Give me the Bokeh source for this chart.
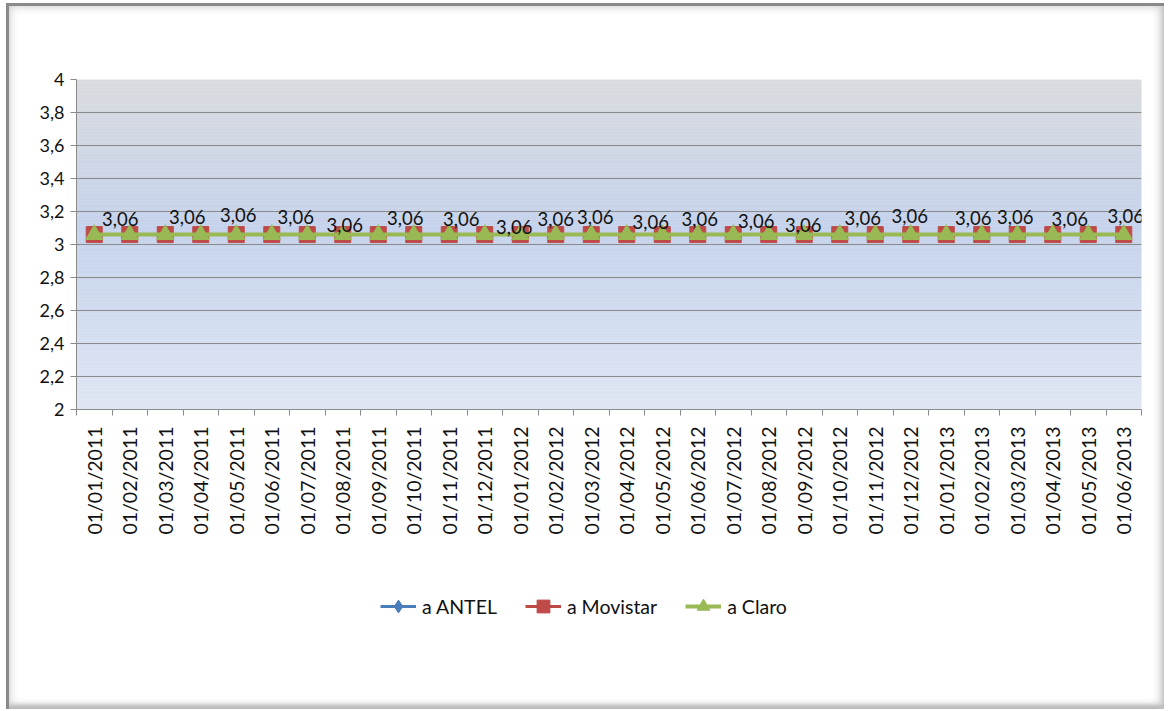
import numpy as np
from bokeh.plotting import figure
from bokeh.layouts import column
from bokeh.models import Range1d, FixedTicker, Legend, LegendItem
from bokeh.core.properties import value
from bokeh.embed import file_html
from bokeh.resources import INLINE

# ---- data ----
categories = ["01/01/2011", "01/02/2011", "01/03/2011", "01/04/2011", "01/05/2011", "01/06/2011",
              "01/07/2011", "01/08/2011", "01/09/2011", "01/10/2011", "01/11/2011", "01/12/2011",
              "01/01/2012", "01/02/2012", "01/03/2012", "01/04/2012", "01/05/2012", "01/06/2012",
              "01/07/2012", "01/08/2012", "01/09/2012", "01/10/2012", "01/11/2012", "01/12/2012",
              "01/01/2013", "01/02/2013", "01/03/2013", "01/04/2013", "01/05/2013", "01/06/2013"]
antel = [3.06] * 30
movistar = [3.06] * 30
claro = [3.06] * 30
series_names = ["a ANTEL", "a Movistar", "a Claro"]
y_ticks = [2.0, 2.2, 2.4, 2.6, 2.8, 3.0, 3.2, 3.4, 3.6, 3.8, 4.0]
y_tick_labels = ["2", "2,2", "2,4", "2,6", "2,8", "3", "3,2", "3,4", "3,6", "3,8", "4"]
# visible data labels: category index, pixel offset x, pixel offset y (up negative)
label_idx = [0, 2, 4, 5, 7, 8, 10, 12, 13, 14, 15, 17, 18, 20, 21, 23, 24, 26, 27, 29]
label_dx = [26, 22, 2, 24, 2, 27, 12, -6, 0, 4, 24, 2, 23, -1, 23, -1, 27, -2, 17, 2]
label_dy = [-16, -18, -20, -18, -10, -17, -16, -8, -16, -18, -13, -16, -14, -10, -17, -19, -17, -18, -16, -19]

FONT = "Lato"
W = 1158
HA, HB = 560, 146
FL, FT, FW, FH = 70, 76, 1065, 330

p = figure(width=W, height=HA, output_backend="svg", toolbar_location=None,
           x_range=Range1d(0, len(categories)), y_range=Range1d(2, 4),
           min_border_left=FL, min_border_right=W - FL - FW,
           min_border_top=FT, min_border_bottom=HA - FT - FH)
p.border_fill_color = None
p.background_fill_color = None
p.outline_line_color = None

# gradient background of the plot area
n = 120
edges = np.linspace(2, 4, n + 1)
stops_f = [0.0, 0.45, 1.0]  # fraction from top
stops_c = [(217, 218, 222), (197, 211, 236), (223, 230, 243)]
cols = []
for k in range(n):
    mid = (edges[k] + edges[k + 1]) / 2
    f = (4 - mid) / 2
    rgb = [int(round(np.interp(f, stops_f, [c[j] for c in stops_c]))) for j in range(3)]
    cols.append("#%02x%02x%02x" % tuple(rgb))
p.quad(left=0, right=len(categories), bottom=edges[:-1], top=edges[1:],
       fill_color=cols, line_color=cols, line_width=0.5, level="image")

xs = np.arange(len(categories)) + 0.5

blue, red, green = "#4a7ebb", "#be4b48", "#98b954"
styles = [dict(color=blue, marker="diamond", size=15, lw=3),
          dict(color=red, marker="square", size=16, lw=3),
          dict(color=green, marker="triangle", size=17, lw=4)]
all_series = [antel, movistar, claro]
for vals, st in zip(all_series, styles):
    p.line(xs, vals, line_color=st["color"], line_width=st["lw"])
    p.scatter(xs, vals, marker=st["marker"], size=st["size"],
              fill_color=st["color"], line_color=st["color"])

# data labels
ppx = FW / len(categories)
ppy = FH / 2.0
lab_x = [i + 0.5 + dx / ppx for i, dx in zip(label_idx, label_dx)]
lab_y = [claro[i] - dy / ppy for i, dy in zip(label_idx, label_dy)]
lab_t = [("%.2f" % claro[i]).replace(".", ",") for i in label_idx]
p.text(x=lab_x, y=lab_y, text=lab_t, text_align="center", text_baseline="middle",
       text_font=value(FONT), text_font_size="18.5px", text_color="#111111")

# axes
p.xaxis.ticker = FixedTicker(ticks=list(xs), minor_ticks=list(range(len(categories) + 1)))
p.xaxis.major_label_overrides = {float(x): c for x, c in zip(xs, categories)}
p.xaxis.major_label_orientation = np.pi / 2
p.xaxis.major_tick_out = 0
p.xaxis.major_tick_in = 0
p.xaxis.minor_tick_out = 6
p.xaxis.minor_tick_in = 0
p.xaxis.minor_tick_line_color = "#8a8a8a"
p.xaxis.major_label_standoff = 11
p.xaxis.major_label_text_font = FONT
p.xaxis.major_label_text_font_size = "19.5px"
p.xaxis.major_label_text_color = "#111111"
p.xaxis.axis_line_color = "#8a8a8a"

p.yaxis.ticker = FixedTicker(ticks=y_ticks)
p.yaxis.major_label_overrides = {t: l for t, l in zip(y_ticks, y_tick_labels)}
p.yaxis.major_tick_out = 6
p.yaxis.major_tick_in = 0
p.yaxis.minor_tick_line_color = None
p.yaxis.major_tick_line_color = "#8a8a8a"
p.yaxis.axis_line_color = "#8a8a8a"
p.yaxis.major_label_standoff = 6
p.yaxis.major_label_text_font = FONT
p.yaxis.major_label_text_font_size = "18px"
p.yaxis.major_label_text_color = "#111111"

p.xgrid.grid_line_color = None
p.ygrid.grid_line_color = "#8a8a8a"
p.ygrid.ticker = FixedTicker(ticks=y_ticks)

# legend strip (separate figure so the legend is not clipped by the plot frame);
# its ranges leave the series out of view, only the legend shows
q = figure(width=W, height=HB, output_backend="svg", toolbar_location=None,
           x_range=Range1d(0, len(categories)), y_range=Range1d(0, 1),
           x_axis_location=None, y_axis_location=None,
           min_border=0, min_border_left=0, min_border_right=0, min_border_top=0, min_border_bottom=0)
q.border_fill_color = None
q.background_fill_color = None
q.outline_line_color = None
q.grid.visible = False
items = []
for name, vals, st in zip(series_names, all_series, styles):
    lr = q.line(xs, vals, line_color=st["color"], line_width=st["lw"])
    mr = q.scatter(xs, vals, marker=st["marker"], size=st["size"],
                   fill_color=st["color"], line_color=st["color"])
    items.append(LegendItem(label=name, renderers=[lr, mr]))
legend = Legend(items=items, orientation="horizontal", location=(304, 87),
                label_text_font=FONT, label_text_font_size="19.5px", label_text_color="#111111",
                glyph_width=36, glyph_height=32, label_height=32, label_standoff=6, spacing=28,
                padding=0, margin=0, border_line_color=None, background_fill_alpha=0)
q.add_layout(legend, "center")

layout = column(p, q, spacing=0,
                styles={"background-color": "white", "margin-left": "6px", "margin-top": "3px",
                        "box-shadow": "inset 3px 3px 0 #8a8a8a, inset 0 0 10px 3px #c4c4c4, inset 0 -3px 4px #9a9a9a"})

open("out.html", "w").write(file_html(layout, INLINE))
